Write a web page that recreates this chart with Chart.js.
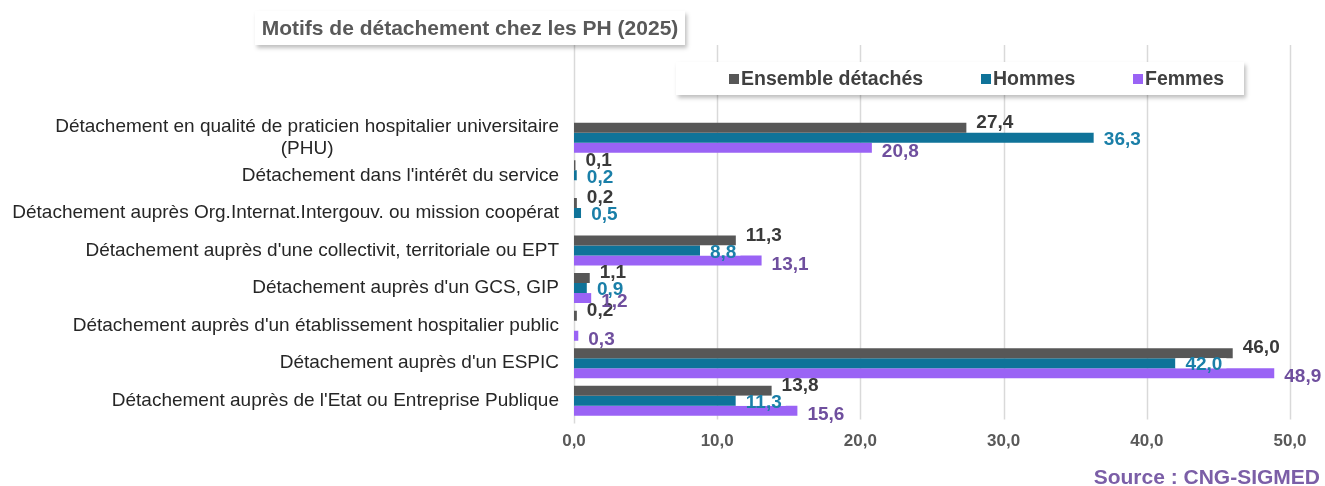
<!DOCTYPE html>
<html lang="fr">
<head>
<meta charset="utf-8">
<script src="https://cdn.jsdelivr.net/npm/chart.js@4"></script>
<style>
  body { margin: 0; background: #fff; font-family: "Liberation Sans", Arial, sans-serif; }
  #wrap { position: relative; width: 1325px; height: 486px; }
  #graph { position: absolute; left: 0; top: 0; }
  .titre {
    position: absolute; left: 255px; top: 11px; width: 430px; height: 34px;
    background: #fff; box-shadow: 2px 3px 4px rgba(0,0,0,0.25);
    font-weight: bold; font-size: 21px; color: #595959; line-height: 34px; text-align: center;
    white-space: nowrap;
  }
  .legende {
    position: absolute; left: 676px; top: 62px; width: 568px; height: 33px;
    background: #fff; box-shadow: 2px 3px 4px rgba(0,0,0,0.25);
  }
  .legende span {
    position: absolute; top: 0; line-height: 33px; font-weight: bold; font-size: 19.5px; color: #404040;
    white-space: nowrap;
  }
  .legende i { display: inline-block; width: 10px; height: 10px; margin-right: 2px; vertical-align: 1px; }
  .source {
    position: absolute; right: 5px; top: 465px; font-weight: bold; font-size: 21px; color: #7b5ea7;
    white-space: nowrap;
  }
</style>
</head>
<body>
<div id="wrap">
  <canvas id="graph" width="1325" height="486"></canvas>
  <div class="titre">Motifs de détachement chez les PH (2025)</div>
  <div class="legende" id="legende"></div>
  <div class="source">Source : CNG-SIGMED</div>
</div>
<script>
const categories = [
    ['Détachement en qualité de praticien hospitalier universitaire', '(PHU)'],
    "Détachement dans l'intérêt du service",
    'Détachement auprès Org.Internat.Intergouv. ou mission coopérat',
    "Détachement auprès d'une collectivit, territoriale ou EPT",
    "Détachement auprès d'un GCS, GIP",
    "Détachement auprès d'un établissement hospitalier public",
    "Détachement auprès d'un ESPIC",
    "Détachement auprès de l'Etat ou Entreprise Publique"
];
const ensemble = [27.4, 0.1, 0.2, 11.3, 1.1, 0.2, 46.0, 13.8];
const hommes = [36.3, 0.2, 0.5, 8.8, 0.9, null, 42.0, 11.3];
const femmes = [20.8, null, null, 13.1, 1.2, 0.3, 48.9, 15.6];
const xTicks = [0, 10, 20, 30, 40, 50];

const series = [
    { label: 'Ensemble détachés', data: ensemble, bar: '#575757', txt: '#3a3a3a', dy: -5 },
    { label: 'Hommes', data: hommes, bar: '#0f7399', txt: '#1a7fa8', dy: 2 },
    { label: 'Femmes', data: femmes, bar: '#9a63f5', txt: '#6f4f9e', dy: 4 }
];

// legende en HTML
const legPos = [53, 305, 457];
document.getElementById('legende').innerHTML = series.map((s, i) =>
    `<span style="left:${legPos[i]}px"><i style="background:${s.bar}"></i>${s.label}</span>`
).join('');

const fmt = v => v.toFixed(1).replace('.', ',');

// grille verticale prolongee jusqu'en haut + libelles des categories
const decor = {
    id: 'decor',
    beforeDatasetsDraw(chart) {
        const { ctx, chartArea, scales } = chart;
        ctx.save();
        ctx.strokeStyle = '#d9d9d9';
        ctx.lineWidth = 1.5;
        xTicks.forEach(t => {
            const x = Math.round(scales.x.getPixelForValue(t)) + 0.5;
            ctx.beginPath();
            ctx.moveTo(x, 45);
            ctx.lineTo(x, chartArea.bottom + (t === 0 ? 4 : 0));
            ctx.stroke();
        });
        // categories
        ctx.fillStyle = '#262626';
        ctx.font = '19px "Liberation Sans", Arial, sans-serif';
        ctx.textBaseline = 'middle';
        const right = chartArea.left - 15;
        categories.forEach((c, i) => {
            const y = scales.y.getPixelForValue(i);
            if (Array.isArray(c)) {
                const w = ctx.measureText(c[0]).width;
                ctx.textAlign = 'right';
                ctx.fillText(c[0], right, y - 11);
                ctx.textAlign = 'center';
                ctx.fillText(c[1], right - w / 2, y + 11);
            } else {
                ctx.textAlign = 'right';
                ctx.fillText(c, right, y);
            }
        });
        ctx.restore();
    },
    afterDatasetsDraw(chart) {
        const { ctx } = chart;
        ctx.save();
        ctx.font = 'bold 19px "Liberation Sans", Arial, sans-serif';
        ctx.textBaseline = 'middle';
        ctx.textAlign = 'left';
        series.forEach((s, di) => {
            const meta = chart.getDatasetMeta(di);
            meta.data.forEach((bar, i) => {
                const v = s.data[i];
                if (v === null) return;
                const txt = fmt(v);
                const x = bar.x + 10;
                const y = bar.y + s.dy;
                if (di === 1) {
                    // petit cache blanc derriere les valeurs Hommes
                    const w = ctx.measureText(txt).width;
                    ctx.fillStyle = '#fff';
                    ctx.fillRect(bar.x, bar.y - bar.height / 2, w + 14, bar.height);
                }
                ctx.fillStyle = s.txt;
                ctx.fillText(txt, x, y);
            });
        });
        ctx.restore();
    }
};

new Chart(document.getElementById('graph'), {
    type: 'bar',
    data: {
        labels: categories,
        datasets: series.map(s => ({
            label: s.label, data: s.data, backgroundColor: s.bar,
            categoryPercentage: 0.8, barPercentage: 1.0
        }))
    },
    options: {
        indexAxis: 'y',
        responsive: false,
        animation: false,
        layout: { padding: { left: 574, right: 35, top: 119, bottom: 22 } },
        plugins: { legend: { display: false }, tooltip: { enabled: false } },
        scales: {
            x: {
                min: 0, max: 50,
                afterBuildTicks: axis => { axis.ticks = xTicks.map(v => ({ value: v })); },
                grid: { display: false, drawTicks: false },
                border: { display: false },
                ticks: {
                    padding: 12,
                    color: '#595959',
                    font: { family: '"Liberation Sans", Arial, sans-serif', size: 17, weight: 'bold' },
                    callback: v => fmt(v)
                }
            },
            y: {
                grid: { display: false, drawTicks: false },
                border: { display: false },
                ticks: { display: false }
            }
        }
    },
    plugins: [decor]
});
</script>
</body>
</html>
